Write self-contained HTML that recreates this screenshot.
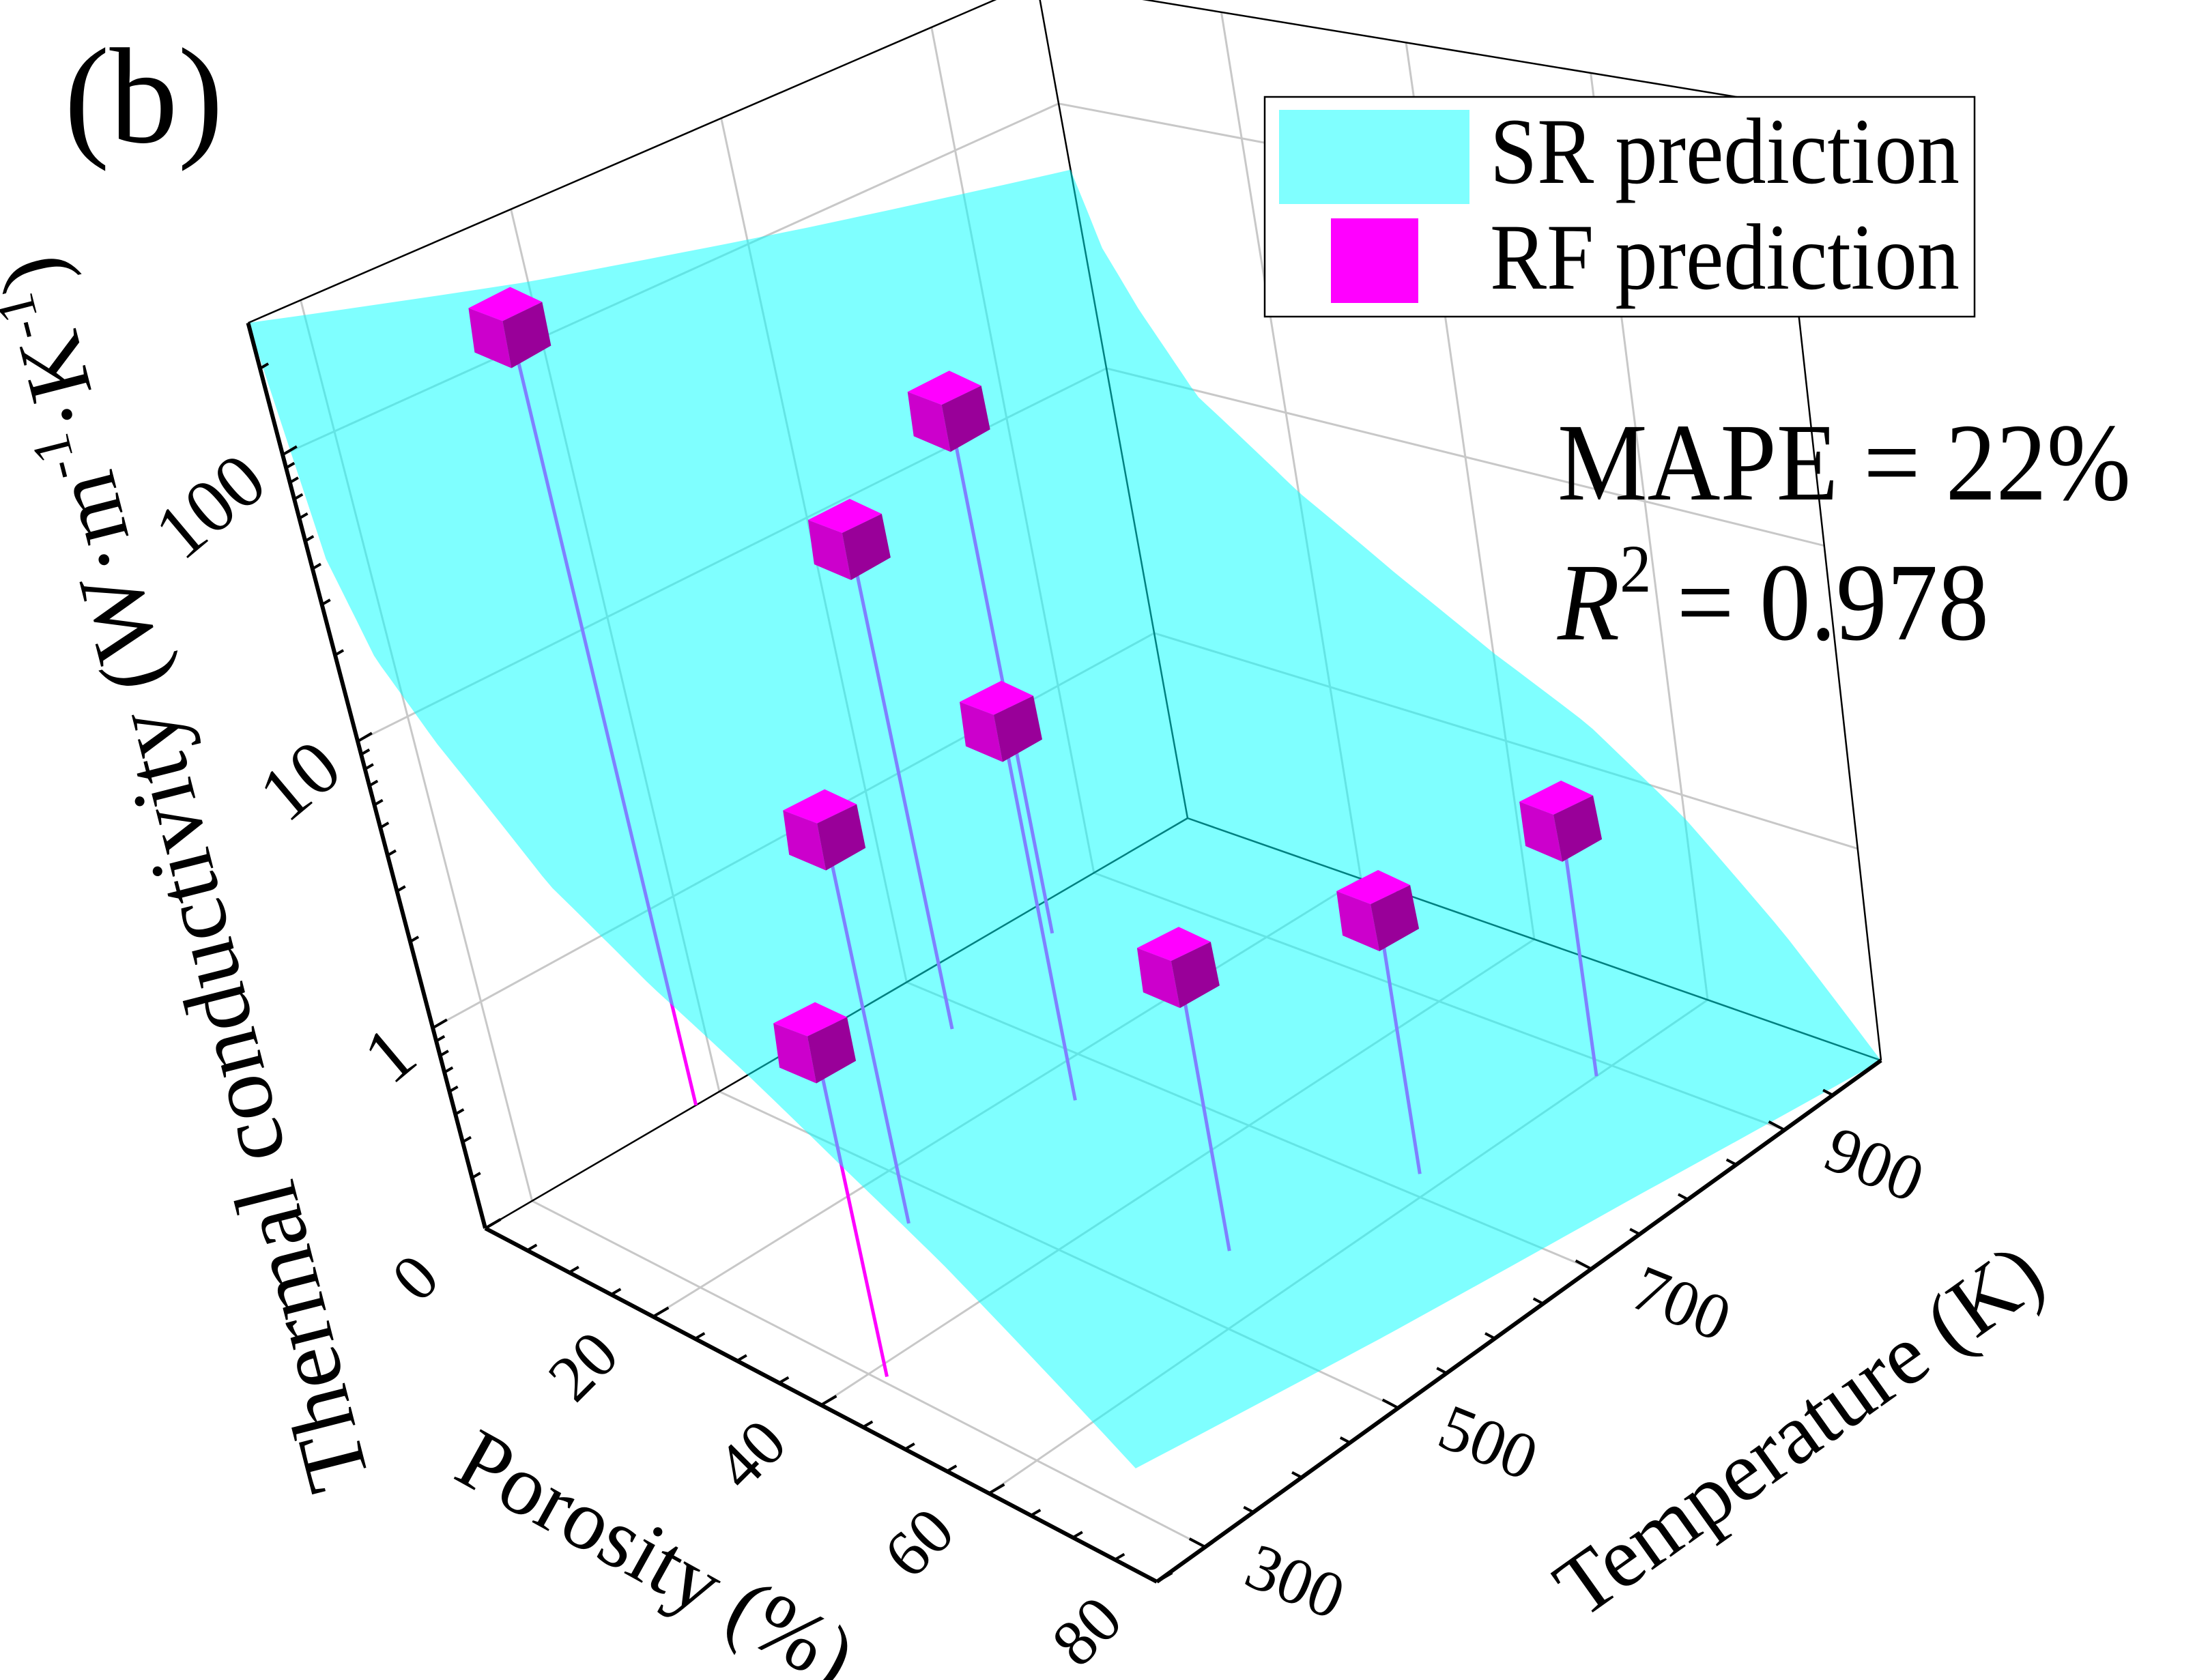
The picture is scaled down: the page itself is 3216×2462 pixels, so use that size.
<!DOCTYPE html>
<html><head><meta charset="utf-8"><style>
html,body{margin:0;padding:0;background:#fff;}
svg{display:block;font-family:"Liberation Serif","DejaVu Serif",serif;}
text{font-family:"Liberation Serif","DejaVu Serif",serif;fill:#000;}
</style></head><body>
<svg id="chart" xmlns="http://www.w3.org/2000/svg" width="3216" height="2462" viewBox="0 0 3216 2462" font-family="Liberation Serif, DejaVu Serif, serif">
<rect x="0" y="0" width="3216" height="2462" fill="#fff"/>
<g id="walls"></g>
<g id="stems"></g>
<g id="surface"></g>
<g id="axes"></g>
<g id="cubes"></g>
<text x="94" y="208" font-size="200" font-family="Liberation Serif, serif">(b)</text>
<g>
<rect x="1853" y="142" width="1040" height="322" fill="#fff" stroke="#000" stroke-width="2.5"/>
<rect x="1874" y="161" width="279" height="138" fill="#80ffff"/>
<text x="2183" y="268" font-size="138" font-family="Liberation Serif, serif" textLength="688" lengthAdjust="spacingAndGlyphs">SR prediction</text>
<rect x="1950" y="320" width="128" height="124" fill="#ff00ff"/>
<text x="2183" y="423" font-size="138" font-family="Liberation Serif, serif" textLength="688" lengthAdjust="spacingAndGlyphs">RF prediction</text>
</g>
<text x="2282" y="732" font-size="162" font-family="Liberation Serif, serif" textLength="840" lengthAdjust="spacingAndGlyphs">MAPE = 22%</text>
<text x="2282" y="937" font-size="162" font-family="Liberation Serif, serif" textLength="632" lengthAdjust="spacingAndGlyphs"><tspan font-style="italic">R</tspan><tspan font-size="100" dy="-70">2</tspan><tspan dy="70"> = 0.978</tspan></text>
<text x="312" y="1270" font-size="132" font-family="Liberation Serif, serif" text-anchor="middle" textLength="1860" lengthAdjust="spacingAndGlyphs" transform="rotate(-104.3 312 1270)">Thermal conductivity (W·m<tspan font-size="80" dy="-50">-1</tspan><tspan dy="50">·K</tspan><tspan font-size="80" dy="-50">-1</tspan><tspan dy="50">)</tspan></text>
<text x="941" y="2320" font-size="126" font-family="Liberation Serif, serif" text-anchor="middle" transform="rotate(29 941 2320)">Porosity (%)</text>
<text x="2660" y="2130" font-size="126" font-family="Liberation Serif, serif" text-anchor="middle" transform="rotate(-35.5 2660 2130)">Temperature (K)</text>
</svg>
<script>
// ---- data ----
const pGrid=[0,2,5,10,20,30,40,50,60,70,80];
const tGrid=[250,500,750,1000];
const srRow0=[2.46,2.20,1.97,1.75];
const srRow2=[1.66,1.60,1.53,1.47];
const srRow5=[1.35,1.32,1.29,1.26];
const srRow10=[1.12,1.07,1.03,0.98];
const srRow20=[0.76,0.74,0.73,0.71];
const srRow30=[0.55,0.53,0.52,0.50];
const srRow40=[0.38,0.36,0.33,0.31];
const srRow50=[0.20,0.18,0.17,0.15];
const srRow60=[0.03,-0.01,-0.04,-0.08];
const srRow70=[-0.16,-0.23,-0.30,-0.37];
const srRow80=[-0.35,-0.47,-0.58,-0.70];
const srLogK=[srRow0,srRow2,srRow5,srRow10,srRow20,srRow30,srRow40,srRow50,srRow60,srRow70,srRow80];
const rfPorosity=[0,4.3,8.5,25,27,41.5,52,57.5,60];
const rfTemp=[475,816,671,652,458,306,572,722,884];
const rfK=[120,16.6,11.5,4.2,4.4,2.5,1.74,1.51,1.45];
const porTicks=[0,20,40,60,80];
const porLabels=["0","20","40","60","80"];
const tempTicks=[300,500,700,900];
const tempLabels=["300","500","700","900"];
const kTicks=[1,10,100];
const kLabels=["1","10","100"];

// ---- projection ----
const NS="http://www.w3.org/2000/svg";
const O=[711,1800],P=[1695,2318],B=[1740,1199],Q=[2756,1554];
const VO=[-110,-420],VP=[-89,-476],VB=[-70,-388],VQ=[-49,-444];
const P0=0,P1=80,T0=250,T1=1000,LMIN=Math.log10(0.2),LMAX=2.46;
function bil(a,b,c,d,s,u,k){return a[k]*(1-s)*(1-u)+b[k]*s*(1-u)+c[k]*(1-s)*u+d[k]*s*u;}
function proj(p,T,lk){
  const s=(p-P0)/(P1-P0),u=(T-T0)/(T1-T0),h=lk-LMIN;
  return [bil(O,P,B,Q,s,u,0)+h*bil(VO,VP,VB,VQ,s,u,0), bil(O,P,B,Q,s,u,1)+h*bil(VO,VP,VB,VQ,s,u,1)];
}
function mk(tag,attrs,parent){const e=document.createElementNS(NS,tag);for(const k in attrs)e.setAttribute(k,attrs[k]);parent.appendChild(e);return e;}
function line(a,b,stroke,w,parent,name){
  const e=mk('line',{x1:a[0],y1:a[1],x2:b[0],y2:b[1],stroke:stroke,'stroke-width':w,'stroke-linecap':'butt'},parent);
  
  
  return e;
}
function srAt(p,T){
  let i=0;while(i<pGrid.length-2&&p>pGrid[i+1])i++;
  let j=0;while(j<tGrid.length-2&&T>tGrid[j+1])j++;
  const s=(p-pGrid[i])/(pGrid[i+1]-pGrid[i]),u=(T-tGrid[j])/(tGrid[j+1]-tGrid[j]);
  return srLogK[i][j]*(1-s)*(1-u)+srLogK[i+1][j]*s*(1-u)+srLogK[i][j+1]*(1-s)*u+srLogK[i+1][j+1]*s*u;
}
const walls=document.getElementById('walls'),stems=document.getElementById('stems'),surf=document.getElementById('surface'),axes=document.getElementById('axes'),cubes=document.getElementById('cubes');
const GC='#c8c8c8';

tempTicks.forEach(t=>{
  line(proj(0,t,LMIN),proj(0,t,LMAX),GC,3,walls,'left-wall-gridline');
  line(proj(0,t,LMIN),proj(80,t,LMIN),GC,3,walls,'floor-gridline-temp');
});
porTicks.slice(1,4).forEach(p=>{
  line(proj(p,1000,LMIN),proj(p,1000,LMAX),GC,3,walls,'right-wall-gridline');
  line(proj(p,250,LMIN),proj(p,1000,LMIN),GC,3,walls,'floor-gridline-porosity');
});
kTicks.forEach(k=>{
  const l=Math.log10(k);
  line(proj(0,250,l),proj(0,1000,l),GC,3,walls,'left-wall-gridline-k');
  line(proj(0,1000,l),proj(80,1000,l),GC,3,walls,'right-wall-gridline-k');
});
line(O,B,'#000',2.5,walls,'floor-back-edge-left');
line(B,Q,'#000',2.5,walls,'floor-back-edge-right');
line(B,proj(0,1000,LMAX),'#000',2.5,walls,'back-vertical-edge');
line(Q,proj(80,1000,LMAX),'#000',2.5,walls,'right-vertical-edge');
line(proj(0,250,LMAX),proj(0,1000,LMAX),'#000',2.5,walls,'top-left-edge');
line(proj(0,1000,LMAX),proj(80,1000,LMAX),'#000',2.5,walls,'top-right-edge');

const order=rfK.map((k,i)=>i).sort((a,b)=>(rfPorosity[a]/80-(rfTemp[a]-250)/750)-(rfPorosity[b]/80-(rfTemp[b]-250)/750));
order.forEach(i=>{
  const top=proj(rfPorosity[i],rfTemp[i],Math.log10(rfK[i])),bot=proj(rfPorosity[i],rfTemp[i],LMIN);
  line(top,bot,'#ff00ff',5,stems,'rf-stem');
});

const pts=[];
const N=40;
for(let k=0;k<=N*2;k++){const p=80*Math.pow(k/(N*2),1.6);pts.push(proj(p,250,srAt(p,250)));}
for(let k=1;k<=N;k++){const T=250+750*k/N;pts.push(proj(80,T,srAt(80,T)));}
for(let k=N*2-1;k>=0;k--){const p=80*Math.pow(k/(N*2),1.6);pts.push(proj(p,1000,srAt(p,1000)));}
for(let k=N-1;k>0;k--){const T=250+750*k/N;pts.push(proj(0,T,srAt(0,T)));}
const sp=mk('polygon',{points:pts.map(q=>q[0].toFixed(1)+','+q[1].toFixed(1)).join(' '),fill:'#00ffff','fill-opacity':'0.5',stroke:'none'},surf);



line(O,proj(0,250,LMAX),'#000',6,axes,'z-axis-line');
line(O,P,'#000',6,axes,'porosity-axis-line');
line(P,Q,'#000',6,axes,'temperature-axis-line');
function unit(a,b){const dx=b[0]-a[0],dy=b[1]-a[1],l=Math.hypot(dx,dy);return [dx/l,dy/l];}
const dirT=unit(O,B), dirP=unit(O,P);
const FF='Liberation Serif, serif';
for(let dec=-1;dec<=2;dec++){for(let m=1;m<=9;m++){
  const l=dec+Math.log10(m); if(l<LMIN||l>LMAX)continue;
  const a=proj(0,250,l),len=(m===1)?24:14;
  line(a,[a[0]+dirT[0]*len,a[1]+dirT[1]*len],'#000',4,axes,m===1?'z-major-tick':'z-minor-tick');
}}
kTicks.forEach((k,i)=>{
  const a=proj(0,250,Math.log10(k));
  const t=mk('text',{x:a[0]-18,y:a[1]+50,'font-size':112,'font-family':FF,'text-anchor':'end',transform:`rotate(-40 ${a[0]-18} ${a[1]+50})`},axes);
  t.textContent=kLabels[i];
  
  
});
for(let p=0;p<=80;p+=5){
  const a=proj(p,250,LMIN),len=(p%20===0)?26:16;
  line(a,[a[0]+dirT[0]*len,a[1]+dirT[1]*len],'#000',4,axes,'porosity-tick');
}
porTicks.forEach((p,i)=>{
  const a=proj(p,250,LMIN),x=a[0]-80,y=a[1]+95;
  const t=mk('text',{x:x,y:y,'font-size':96,'font-family':FF,'text-anchor':'middle',transform:`rotate(-45 ${x} ${y})`},axes);
  t.textContent=porLabels[i];
  
  
});
for(let T=300;T<=950;T+=50){
  const a=proj(80,T,LMIN),len=(T%200===100)?26:16;
  line(a,[a[0]-dirP[0]*len,a[1]-dirP[1]*len],'#000',4,axes,'temperature-tick');
}
tempTicks.forEach((T,i)=>{
  const a=proj(80,T,LMIN),x=a[0]+120,y=a[1]+80;
  const t=mk('text',{x:x,y:y,'font-size':96,'font-family':FF,'text-anchor':'middle',transform:`rotate(22 ${x} ${y})`},axes);
  t.textContent=tempLabels[i];
  
  
});

const TB=[0,-59],TL=[-61,-28],TR=[47,-37],TF=[-11,-9],BL=[-52,37],BF=[2,60],BR=[60,27];
function poly(c,vs,fill,name){
  const e=mk('polygon',{points:vs.map(v=>(c[0]+v[0]).toFixed(1)+','+(c[1]+v[1]).toFixed(1)).join(' '),fill:fill},cubes);
  
  
}
order.forEach(i=>{
  const c=proj(rfPorosity[i],rfTemp[i],Math.log10(rfK[i]));
  poly(c,[TL,TB,TR,TF],'#ff00ff','rf-cube-top');
  poly(c,[TL,TF,BF,BL],'#cc00cc','rf-cube-left');
  poly(c,[TF,TR,BR,BF],'#990099','rf-cube-right');
});
</script>
</body></html>
